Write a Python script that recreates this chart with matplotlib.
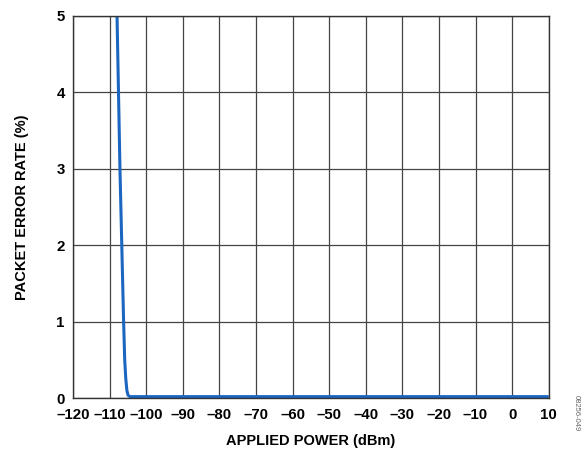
import matplotlib
matplotlib.use("Agg")
import matplotlib.pyplot as plt

plt.rcParams['font.family'] = ['Liberation Sans', 'DejaVu Sans']

# curve
power = [-108.0, -107.6, -107.2, -106.7, -106.2, -105.9, -105.6, -105.3, -105.0, -104.5, -103.0, -100.0, -90.0, -60.0, -30.0, 0.0, 10.0]
per = [5.0, 4.0, 3.0, 2.0, 1.0, 0.5, 0.25, 0.1, 0.04, 0.02, 0.02, 0.02, 0.02, 0.02, 0.02, 0.02, 0.02]

xticks = list(range(-120, 11, 10))
yticks = [0, 1, 2, 3, 4, 5]

fig = plt.figure(figsize=(5.85, 4.54), dpi=100)
ax = fig.add_axes([0.125, 0.123, 0.813, 0.842])

ax.plot(power, per, color='#1a66c0', lw=2.2, solid_capstyle='butt')

ax.set_xlim(-120, 10)
ax.set_ylim(0, 5)
ax.set_xticks(xticks)
ax.set_xticklabels([str(t).replace('-', '\u2013') for t in xticks])
ax.set_yticks(yticks)
ax.grid(True, color='#444444', lw=0.9)
ax.tick_params(axis='x', length=0, labelsize=10.8, pad=7)
ax.tick_params(axis='y', length=0, labelsize=10.8, pad=6)
for lab in ax.get_xticklabels() + ax.get_yticklabels():
    lab.set_fontweight('bold')
for s in ax.spines.values():
    s.set_color('#333333')
    s.set_linewidth(1.0)

ax.set_xlabel('APPLIED POWER (dBm)', fontsize=10.5, fontweight='bold', labelpad=9)
ax.set_ylabel('PACKET ERROR RATE (%)', fontsize=10.5, fontweight='bold', labelpad=20)

fig.text(0.985, 0.09, '08256-049', rotation=270, fontsize=5.5, color='#666666', ha='center', va='center')

fig.savefig('out.png', dpi=100)
